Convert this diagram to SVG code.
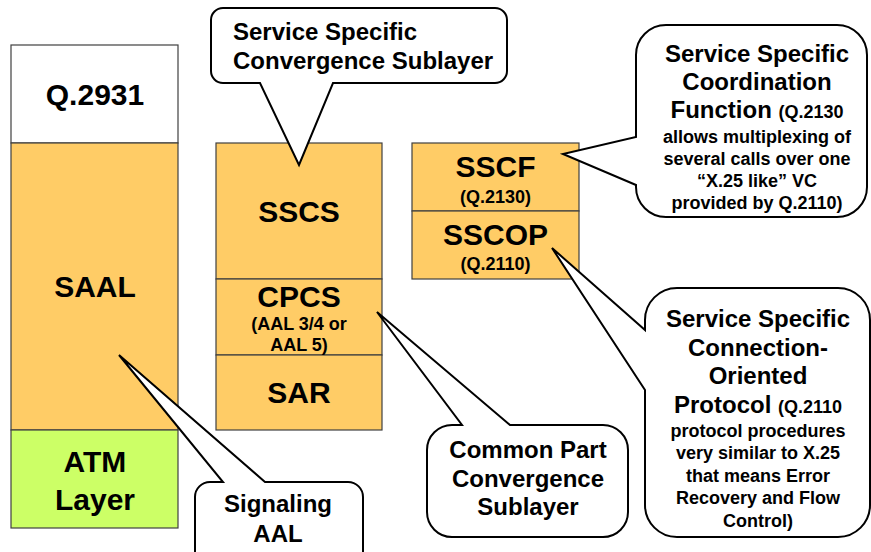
<svg xmlns="http://www.w3.org/2000/svg" width="871" height="552" viewBox="0 0 871 552">
<style>
text{font-family:"Liberation Sans",Arial,sans-serif;font-weight:bold;fill:#000;text-anchor:middle}
.big{font-size:30px}
.sm{font-size:18px}
.co{font-size:24px}
.box{stroke:#404040;stroke-width:1.2}
.or{fill:#FFCC66}
.gr{fill:#CCFF66}
.wh{fill:#FFFFFF}
.call{fill:#FFFFFF;stroke:#000;stroke-width:2;stroke-linejoin:miter}
</style>
<rect width="871" height="552" fill="#FFFFFF"/>
<g id="col-left">
  <rect class="box wh" x="11" y="45" width="167" height="98"/>
  <rect class="box or" x="11" y="143" width="167" height="287"/>
  <rect class="box gr" x="11" y="430" width="167" height="98"/>
  <text class="big" x="95" y="105">Q.2931</text>
  <text class="big" x="95" y="297">SAAL</text>
  <text class="big" x="95" y="472">ATM</text>
  <text class="big" x="95" y="510">Layer</text>
</g>
<g id="col-mid">
  <rect class="box or" x="216" y="143" width="166" height="136"/>
  <rect class="box or" x="216" y="279" width="166" height="76"/>
  <rect class="box or" x="216" y="355" width="166" height="75"/>
  <text class="big" x="299" y="222">SSCS</text>
  <text class="big" x="299" y="307">CPCS</text>
  <text class="sm" x="299" y="330">(AAL 3/4 or</text>
  <text class="sm" x="299" y="351">AAL 5)</text>
  <text class="big" x="299" y="403">SAR</text>
</g>
<g id="col-right">
  <rect class="box or" x="412" y="143" width="167" height="68"/>
  <rect class="box or" x="412" y="211" width="167" height="68"/>
  <text class="big" x="495.5" y="177">SSCF</text>
  <text class="sm" x="495.5" y="203">(Q.2130)</text>
  <text class="big" x="495.5" y="245">SSCOP</text>
  <text class="sm" x="495.5" y="270">(Q.2110)</text>
</g>
<g id="connectors">
  <path id="callout-sscs" class="call" d="M223,8 H495 A12,12 0 0 1 507,20 V71 A12,12 0 0 1 495,83 H333 L299,165 L260,83 H223 A12,12 0 0 1 211,71 V20 A12,12 0 0 1 223,8 Z"/>
  <path id="callout-sscf" class="call" d="M666,25 H837 A30,30 0 0 1 867,55 V187 A30,30 0 0 1 837,217 H666 A30,30 0 0 1 636,187 V185 L563,154 L636,137 V55 A30,30 0 0 1 666,25 Z"/>
  <path id="callout-sscop" class="call" d="M677,288 H838 A32,32 0 0 1 870,320 V505 A32,32 0 0 1 838,537 H677 A32,32 0 0 1 645,505 V390 L552,248 L645,330 V320 A32,32 0 0 1 677,288 Z"/>
  <path id="callout-cpcs" class="call" d="M452,425 H462 L377,312 L510,425 H603 A25,25 0 0 1 628,450 V512 A25,25 0 0 1 603,537 H452 A25,25 0 0 1 427,512 V450 A25,25 0 0 1 452,425 Z"/>
  <path id="callout-saal" class="call" d="M210,482 H223 L119,355 L265,482 H348 A15,15 0 0 1 363,497 V560 H195 V497 A15,15 0 0 1 210,482 Z"/>
</g>
<g id="label-sscs">
  <text class="co" x="233" y="40" style="text-anchor:start">Service Specific</text>
  <text class="co" x="233" y="69" style="text-anchor:start">Convergence Sublayer</text>
</g>
<g id="label-sscf">
  <text class="co" x="757" y="62">Service Specific</text>
  <text class="co" x="757" y="90">Coordination</text>
  <text x="757" y="118"><tspan class="co">Function </tspan><tspan class="sm">(Q.2130</tspan></text>
  <text class="sm" x="757" y="143">allows multiplexing of</text>
  <text class="sm" x="757" y="165">several calls over one</text>
  <text class="sm" x="757" y="187">“X.25 like” VC</text>
  <text class="sm" x="757" y="209">provided by Q.2110)</text>
</g>
<g id="label-sscop">
  <text class="co" x="758" y="327">Service Specific</text>
  <text class="co" x="758" y="356">Connection-</text>
  <text class="co" x="758" y="384">Oriented</text>
  <text x="758" y="413"><tspan class="co">Protocol </tspan><tspan class="sm">(Q.2110</tspan></text>
  <text class="sm" x="758" y="437">protocol procedures</text>
  <text class="sm" x="758" y="459">very similar to X.25</text>
  <text class="sm" x="758" y="482">that means Error</text>
  <text class="sm" x="758" y="504">Recovery and Flow</text>
  <text class="sm" x="758" y="527">Control)</text>
</g>
<g id="label-cpcs">
  <text class="co" x="528" y="458">Common Part</text>
  <text class="co" x="528" y="487">Convergence</text>
  <text class="co" x="528" y="515">Sublayer</text>
</g>
<g id="label-saal">
  <text class="co" x="278" y="512">Signaling</text>
  <text class="co" x="278" y="542">AAL</text>
</g>
</svg>
